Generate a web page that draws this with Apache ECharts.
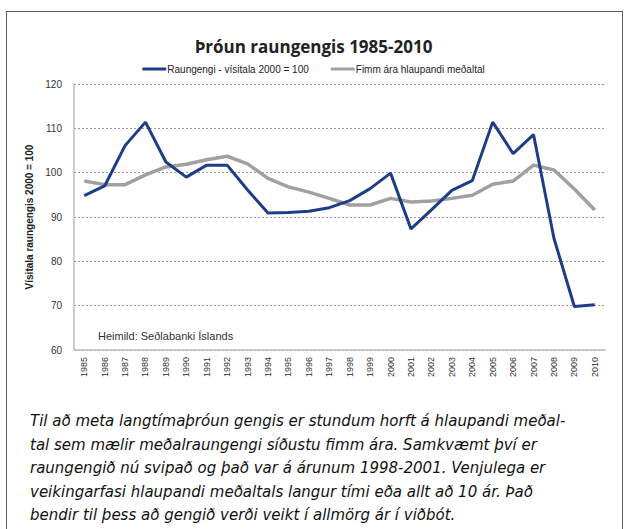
<!DOCTYPE html>
<html>
<head>
<meta charset="utf-8">
<script src="https://cdn.jsdelivr.net/npm/echarts@6/dist/echarts.min.js"></script>
<style>
	body { margin: 0; background: #fff; }
	#frame { position: absolute; left: 6px; top: 11px; width: 615px; height: 540px; border: 1px solid #5a5a5a; border-bottom: none; }
	#main { position: absolute; left: 0; top: 0; width: 627px; height: 400px; }
	#texti { position: absolute; left: 30px; top: 410px; font-family: "DejaVu Sans", sans-serif; font-style: italic; font-size: 15px; line-height: 23.5px; color: #111; white-space: nowrap; }
</style>
</head>
<body>
<div id="frame"></div>
<div id="main"></div>
<div id="texti">
Til að meta langtímaþróun gengis er stundum horft á hlaupandi meðal-<br>
tal sem mælir meðalraungengi síðustu fimm ára. Samkvæmt því er<br>
raungengið nú svipað og það var á árunum 1998-2001. Venjulega er<br>
veikingarfasi hlaupandi meðaltals langur tími eða allt að 10 ár. Það<br>
bendir til þess að gengið verði veikt í allmörg ár í viðbót.
</div>
<script>
// ár
var years = ['1985', '1986', '1987', '1988', '1989', '1990', '1991', '1992', '1993', '1994', '1995', '1996', '1997',
	'1998', '1999', '2000', '2001', '2002', '2003', '2004', '2005', '2006', '2007', '2008', '2009', '2010'];
// raungengi, vísitala 2000 = 100
var raungengi = [94.8, 97.0, 106.1, 111.4, 102.4, 99.0, 101.7, 101.7, 96.1, 90.9, 91.0, 91.3, 92.1,
	93.7, 96.4, 99.9, 87.3, 91.6, 96.0, 98.2, 111.4, 104.3, 108.6, 85.2, 69.8, 70.2];
// fimm ára hlaupandi meðaltal
var medaltal = [98.1, 97.3, 97.3, 99.5, 101.3, 101.9, 102.9, 103.7, 102.0, 98.7, 96.8, 95.6, 94.2,
	92.7, 92.7, 94.2, 93.4, 93.6, 94.2, 94.9, 97.4, 98.1, 101.7, 100.6, 96.3, 91.6];
var names = ['Raungengi - vísitala 2000 = 100', 'Fimm ára hlaupandi meðaltal'];

var myChart = echarts.init(document.getElementById('main'), null, { renderer: 'svg' });
var font = '"Liberation Sans", sans-serif';
var option = {
	animation: false,
	title: {
		text: 'Þróun raungengis 1985-2010',
		left: 'center',
		top: 33,
		textStyle: { fontFamily: '"Open Sans", sans-serif', fontSize: 17, fontWeight: 'bold', color: '#222' }
	},
	legend: {
		data: names,
		top: 59,
		left: 'center',
		icon: 'roundRect',
		itemWidth: 24,
		itemHeight: 3,
		itemGap: 22,
		textStyle: { fontFamily: font, fontSize: 10, color: '#222', padding: [0, 0, 0, -4] }
	},
	grid: { left: 74, right: 22, top: 84, bottom: 50, containLabel: false },
	xAxis: {
		type: 'category',
		data: years,
		boundaryGap: true,
		axisLine: { lineStyle: { color: '#bdbdbd', width: 1.5 } },
		axisTick: { show: false },
		axisLabel: { rotate: 90, fontFamily: font, fontSize: 9, color: '#333', margin: 7, interval: 0 }
	},
	yAxis: {
		type: 'value',
		min: 60,
		max: 120,
		interval: 10,
		name: 'Vísitala raungengis 2000 = 100',
		nameLocation: 'middle',
		nameGap: 40,
		nameTextStyle: { fontFamily: font, fontSize: 10, fontWeight: 'bold', color: '#222' },
		axisLine: { show: true, lineStyle: { color: '#bdbdbd', width: 1.5 } },
		axisTick: { show: false },
		axisLabel: { fontFamily: font, fontSize: 10, color: '#333', margin: 12 },
		splitLine: { lineStyle: { color: '#999', type: [2, 2], width: 1 } }
	},
	graphic: [{
		type: 'text',
		left: 98,
		top: 330,
		style: { text: 'Heimild: Seðlabanki Íslands', fontFamily: font, fontSize: 11, fill: '#333' }
	}],
	series: [
		{
			name: names[0], type: 'line', data: raungengi, z: 3,
			symbol: 'none', lineStyle: { color: '#1f3d87', width: 3 }, itemStyle: { color: '#1f3d87' }
		},
		{
			name: names[1], type: 'line', data: medaltal, z: 2,
			symbol: 'none', lineStyle: { color: '#a0a0a0', width: 3.5 }, itemStyle: { color: '#a0a0a0' }
		}
	]
};
myChart.setOption(option);
</script>
</body>
</html>
